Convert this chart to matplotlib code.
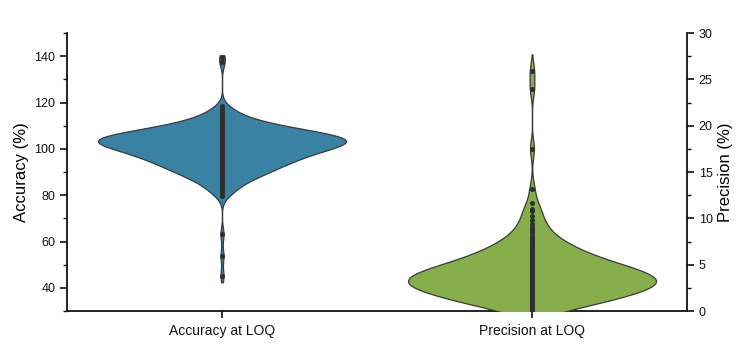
import numpy as np
import matplotlib
matplotlib.use("Agg")
import matplotlib.pyplot as plt
from matplotlib.ticker import MultipleLocator

categories = ["Accuracy at LOQ", "Precision at LOQ"]

accuracy = [
    45.2, 53.8, 63.1,
    79.8, 80.6, 81.7, 82.3, 83.0, 83.7, 84.2, 84.8, 85.4, 85.9,
    86.2, 86.6, 87.0, 87.3, 87.6, 87.9, 88.1, 88.4, 88.6, 88.9, 89.1, 89.4, 89.6, 89.9,
    90.1, 90.3, 90.5, 90.7, 90.9, 91.1, 91.3, 91.5, 91.7, 91.9,
    92.1, 92.2, 92.4, 92.6, 92.7, 92.9, 93.1, 93.2, 93.4, 93.6, 93.7, 93.9,
    94.0, 94.2, 94.3, 94.5, 94.6, 94.7, 94.9, 95.0, 95.2, 95.3, 95.5, 95.6, 95.8, 95.9,
    96.0, 96.2, 96.3, 96.4, 96.5, 96.7, 96.8, 96.9, 97.1, 97.2, 97.3, 97.5, 97.6, 97.7, 97.8, 97.9,
    98.0, 98.1, 98.2, 98.3, 98.4, 98.5, 98.6, 98.7, 98.8, 98.9,
    99.0, 99.2, 99.3, 99.4, 99.5, 99.6, 99.7, 99.8, 99.9,
    100.0, 100.1, 100.2, 100.3, 100.4, 100.5, 100.5, 100.6, 100.7, 100.8, 100.9,
    101.0, 101.1, 101.2, 101.3, 101.4, 101.5, 101.5, 101.6, 101.7, 101.8, 101.9,
    102.0, 102.1, 102.2, 102.2, 102.3, 102.4, 102.5, 102.5, 102.6, 102.7, 102.8, 102.8, 102.9,
    103.0, 103.1, 103.1, 103.2, 103.3, 103.4, 103.4, 103.5, 103.6, 103.7, 103.7, 103.8, 103.9, 103.9,
    104.0, 104.1, 104.1, 104.2, 104.2, 104.3, 104.4, 104.4, 104.5, 104.6, 104.6, 104.7, 104.8, 104.8, 104.9,
    105.0, 105.1, 105.1, 105.2, 105.3, 105.4, 105.5, 105.5, 105.6, 105.7, 105.8, 105.9,
    106.0, 106.1, 106.2, 106.3, 106.4, 106.5, 106.6, 106.7, 106.8, 106.9,
    107.0, 107.1, 107.2, 107.3, 107.4, 107.5, 107.6, 107.7, 107.8, 107.9,
    108.0, 108.2, 108.3, 108.4, 108.6, 108.7, 108.9, 109.0, 109.2, 109.3, 109.5, 109.6, 109.8, 109.9,
    110.1, 110.3, 110.5, 110.8, 111.0, 111.2, 111.5, 111.7, 111.9,
    112.3, 112.7, 113.1, 113.5, 113.9, 114.4, 115.0, 115.6, 116.4, 117.2, 118.3,
    137.6, 139.3,
]

precision = [
    0.08, 0.15, 0.22, 0.30, 0.38, 0.45,
    0.54, 0.61, 0.68, 0.75, 0.82, 0.89, 0.96,
    1.03, 1.08, 1.14, 1.19, 1.25, 1.30, 1.36, 1.41, 1.47,
    1.52, 1.56, 1.61, 1.65, 1.70, 1.74, 1.79, 1.83, 1.88, 1.92, 1.97,
    2.02, 2.06, 2.10, 2.13, 2.17, 2.21, 2.25, 2.29, 2.33, 2.37, 2.40, 2.44, 2.48,
    2.52, 2.55, 2.59, 2.62, 2.66, 2.69, 2.73, 2.77, 2.80, 2.84, 2.87, 2.91, 2.94, 2.98,
    3.01, 3.04, 3.07, 3.10, 3.13, 3.16, 3.19, 3.22, 3.25, 3.28, 3.31, 3.34, 3.37, 3.40, 3.44, 3.47,
    3.52, 3.55, 3.59, 3.62, 3.66, 3.69, 3.73, 3.77, 3.80, 3.84, 3.87, 3.91, 3.94, 3.98,
    4.02, 4.06, 4.10, 4.13, 4.17, 4.21, 4.25, 4.29, 4.33, 4.37, 4.40, 4.44, 4.48,
    4.52, 4.56, 4.61, 4.65, 4.70, 4.74, 4.79, 4.83, 4.88, 4.92, 4.97,
    5.03, 5.08, 5.14, 5.19, 5.25, 5.30, 5.36, 5.41, 5.47,
    5.54, 5.61, 5.68, 5.75, 5.82, 5.89, 5.96,
    6.05, 6.13, 6.22, 6.30, 6.38, 6.46,
    6.55, 6.65, 6.75, 6.85, 6.95,
    7.06, 7.18, 7.31, 7.43, 7.58, 7.75, 7.92,
    8.1, 8.4, 8.6, 8.9, 9.1, 9.4, 9.8,
    10.3, 10.8, 11.0, 11.7, 13.2,
    17.5, 24.0, 25.9,
]

acc_ticks = [40, 60, 80, 100, 120, 140]
prec_ticks = [0, 5, 10, 15, 20, 25, 30]

acc_color = "#3A82A4"
prec_color = "#86AE4B"
edge_color = "#3a3a3a"
dot_color = "#2e2e2e"

plt.rcParams["font.family"] = ["Liberation Sans", "DejaVu Sans"]


def violin(ax, data, pos, color, bw, cut_lo, cut_hi, width=0.4):
    d = np.asarray(data, float)
    grid = np.linspace(d.min() - cut_lo * bw, d.max() + cut_hi * bw, 1500)
    dens = np.exp(-0.5 * ((grid[:, None] - d[None, :]) / bw) ** 2).sum(axis=1)
    dens = dens / dens.max() * width
    ax.fill_betweenx(grid, pos - dens, pos + dens, facecolor=color,
                     edgecolor=edge_color, linewidth=0.9, zorder=2)
    ax.scatter(np.full(len(d), pos), d, s=13, color=dot_color,
               marker="o", linewidths=0, zorder=3)


fig = plt.figure(figsize=(7.5, 3.55), dpi=100)
ax = fig.add_axes([67 / 750, 1 - 311 / 355, 620 / 750, 278 / 355])
ax2 = ax.twinx()

violin(ax, accuracy, 0, acc_color, bw=2.8, cut_lo=1.0, cut_hi=0.4)
violin(ax2, precision, 1, prec_color, bw=0.95, cut_lo=1.5, cut_hi=1.9)

ax.set_xlim(-0.5, 1.5)
ax.set_ylim(30, 150)
ax2.set_ylim(0, 30)
ax.set_xticks([0, 1])
ax.set_xticklabels(categories, fontsize=10)
ax.set_yticks(acc_ticks)
ax.yaxis.set_minor_locator(MultipleLocator(10))
ax2.set_yticks(prec_ticks)
ax2.yaxis.set_minor_locator(MultipleLocator(2.5))

for a in (ax, ax2):
    a.spines["top"].set_visible(False)
    for s in a.spines.values():
        s.set_linewidth(1.3)
        s.set_color("#111111")
    a.tick_params(axis="both", which="major", length=5, width=1.2,
                  direction="out", labelsize=9, colors="#111111")
    a.tick_params(axis="y", which="minor", length=3, width=1.0,
                  direction="out", colors="#111111")
ax.tick_params(axis="x", labelsize=10, pad=4)
ax.spines["right"].set_visible(False)
ax2.spines["left"].set_visible(False)
ax2.spines["bottom"].set_visible(False)

ax.set_ylabel("Accuracy (%)", fontsize=12, labelpad=4)
ax2.set_ylabel("Precision (%)", fontsize=12, labelpad=4)

fig.savefig("out.png", dpi=100)
